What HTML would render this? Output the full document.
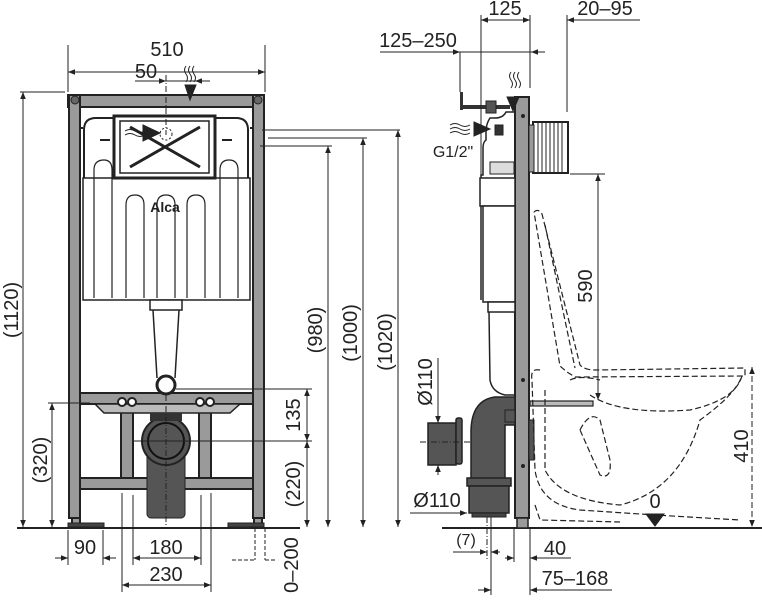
<!DOCTYPE html>
<html><head><meta charset="utf-8"><style>
html,body{margin:0;padding:0;background:#fff}
svg{display:block}
text{font-family:"Liberation Sans",sans-serif;fill:#222;font-size:20px}
</style></head><body>
<svg width="762" height="601" viewBox="0 0 762 601" xmlns="http://www.w3.org/2000/svg">
<defs>
<marker id="a" viewBox="0 0 10 10" refX="10" refY="5" markerWidth="9" markerHeight="7" orient="auto-start-reverse" markerUnits="userSpaceOnUse"><path d="M0,1L10,5L0,9z" fill="#222"/></marker>
</defs>
<g stroke="#222" fill="none">
<line x1="17" y1="528" x2="300" y2="528" stroke-width="2"/>
<line x1="442" y1="528" x2="762" y2="528" stroke-width="2"/>

<g fill="#9a9a9a" stroke-width="2">
<rect x="68" y="95" width="196" height="12"/>
<rect x="69" y="95" width="11" height="423"/>
<rect x="253" y="95" width="11" height="423"/>
<rect x="80" y="393" width="173" height="11"/>
<rect x="80" y="478" width="173" height="11"/>
<rect x="121" y="404" width="12" height="74"/>
<rect x="199" y="404" width="12" height="74"/>
<rect x="72" y="518" width="8" height="9"/>
<rect x="254" y="518" width="8" height="9"/>
</g>
<rect x="68" y="523" width="36" height="4" fill="#444"/>
<rect x="228" y="523" width="36" height="4" fill="#444"/>
<path d="M95 404 L240 404 L230 413 L104 413 Z" fill="#bbb" stroke-width="1.5"/>
<circle cx="75" cy="100" r="4" fill="#666"/><circle cx="258" cy="100" r="4" fill="#666"/>
<path d="M84 130 Q84 118 96 118 L236 118 Q248 118 248 130 L248 178" stroke-width="2"/>
<path d="M84 130 L84 178" stroke-width="2"/>
<rect x="83" y="178" width="167" height="122" fill="#fff" stroke-width="1.5"/>
<path d="M94 298 V170 Q94 160 104 160 Q112 160 112 170 V298 M126 298 V205 Q126 195 135 195 Q144 195 144 205 V298 M157 298 V205 Q157 195 166 195 Q175 195 175 205 V298 M187 298 V205 Q187 195 196 195 Q205 195 205 205 V298 M220 298 V170 Q220 160 229 160 Q238 160 238 170 V298" stroke-width="1.2"/>
<rect x="114" y="116" width="101" height="62" fill="#fff" stroke-width="3"/>
<rect x="120" y="121" width="89" height="52" stroke-width="1.5"/>
<path d="M130 167 L200 127 M130 127 L200 167" stroke-width="3"/>
<path d="M125 131 q5 -3 10 0 q5 3 10 0 M125 135 q5 -3 10 0 q5 3 10 0" stroke-width="1"/>
<path d="M143 125 L160 133 L143 141 Z" fill="#222"/>
<circle cx="166" cy="134" r="6" stroke-dasharray="2 2" stroke-width="1"/>
<path d="M80 128 h3 M250 128 h3 M100 140 l10 0 M222 140 l10 0" stroke-width="2"/>
<rect x="150" y="300" width="32" height="10" fill="#fff" stroke-width="1.5"/>
<path d="M153 310 L157 378 M179 310 L175 378" stroke-width="1.5"/>
<circle cx="166" cy="385" r="9" fill="#fff" stroke-width="3"/>
<g fill="#fff" stroke-width="2"><circle cx="122" cy="402" r="4"/><circle cx="132" cy="402" r="4"/><circle cx="200" cy="402" r="4"/><circle cx="210" cy="402" r="4"/></g>
<rect x="147" y="445" width="38" height="73" rx="4" fill="#555"/>
<circle cx="166" cy="441" r="24" fill="#555" stroke-width="2"/>
<circle cx="166" cy="441" r="18" fill="#555" stroke="#111" stroke-width="2"/>
<rect x="150" y="413" width="32" height="8" fill="#333" stroke="none"/>

<g stroke-width="1">
<line x1="68" y1="45" x2="68" y2="92"/><line x1="265" y1="45" x2="265" y2="92"/>
<line x1="68" y1="72" x2="265" y2="72" marker-start="url(#a)" marker-end="url(#a)"/>
<line x1="135" y1="81" x2="210" y2="81"/>
<line x1="166" y1="75" x2="166" y2="135" stroke-dasharray="6 2 1 2"/>
<path d="M158 81 h8" marker-end="url(#a)"/><path d="M205 81 h-10" marker-end="url(#a)"/>
<line x1="20" y1="92" x2="65" y2="92"/>
<line x1="23" y1="92" x2="23" y2="527" marker-start="url(#a)" marker-end="url(#a)"/>
<line x1="48" y1="403" x2="90" y2="403"/>
<line x1="52" y1="403" x2="52" y2="527" marker-start="url(#a)" marker-end="url(#a)"/>
<line x1="68" y1="530" x2="68" y2="565"/><line x1="103" y1="530" x2="103" y2="565"/>
<line x1="55" y1="558" x2="68" y2="558" marker-end="url(#a)"/><line x1="116" y1="558" x2="103" y2="558" marker-end="url(#a)"/>
<line x1="122" y1="493" x2="122" y2="592"/><line x1="211" y1="493" x2="211" y2="592"/>
<line x1="133" y1="495" x2="133" y2="565"/><line x1="201" y1="495" x2="201" y2="565"/>
<line x1="133" y1="558" x2="201" y2="558" marker-start="url(#a)" marker-end="url(#a)"/>
<line x1="122" y1="585" x2="211" y2="585" marker-start="url(#a)" marker-end="url(#a)"/>
<path d="M255 528 V560 M265 528 V560 M232 560 H255 M265 560 H275" stroke-dasharray="4 2"/>
<line x1="166" y1="395" x2="166" y2="525" stroke-dasharray="6 2 1 2"/>
<line x1="134" y1="441" x2="312" y2="441"/>
<line x1="176" y1="389" x2="312" y2="389"/>
<line x1="307" y1="389" x2="307" y2="441" marker-start="url(#a)" marker-end="url(#a)"/>
<line x1="307" y1="441" x2="307" y2="527" marker-start="url(#a)" marker-end="url(#a)"/>
<line x1="260" y1="146" x2="332" y2="146"/><line x1="268" y1="138" x2="367" y2="138"/><line x1="262" y1="130" x2="400" y2="130"/>
<line x1="328" y1="146" x2="328" y2="527" marker-start="url(#a)" marker-end="url(#a)"/>
<line x1="363" y1="138" x2="363" y2="527" marker-start="url(#a)" marker-end="url(#a)"/>
<line x1="398" y1="130" x2="398" y2="527" marker-start="url(#a)" marker-end="url(#a)"/>
</g>
<path d="M185 85 L196 85 L190 100 Z" fill="#222"/>
<path d="M186 66 q-3 4 0 8 q3 4 0 8 M190 66 q-3 4 0 8 q3 4 0 8 M194 66 q-3 4 0 8 q3 4 0 8" stroke-width="1"/>

<rect x="515" y="97" width="14" height="421" fill="#9a9a9a" stroke-width="2"/>
<rect x="517" y="518" width="11" height="10" fill="#9a9a9a" stroke-width="1.5"/>
<circle cx="523" cy="116" r="1.5" fill="#222"/><circle cx="523" cy="380" r="1.5" fill="#222"/><circle cx="523" cy="466" r="1.5" fill="#222"/>
<path d="M515 112 L506 112 Q503 118 495 118 L490 118 Q486 124 486 132 L486 140 Q483 142 483 148 L483 175 L481 175 L481 300" stroke-width="1.5"/>
<rect x="480" y="178" width="35" height="28" fill="#fff" stroke-width="1.5"/>
<rect x="483" y="206" width="32" height="96" fill="#fff" stroke-width="1.5"/>
<rect x="488" y="302" width="27" height="10" fill="#fff" stroke-width="1.5"/>
<path d="M489 312 L490 380 Q492 392 505 395 L515 395" stroke-width="1.5"/>
<rect x="490" y="162" width="24" height="12" fill="#ddd" stroke-width="1"/>
<rect x="495" y="125" width="8" height="10" fill="#333"/>
<rect x="533" y="122" width="35" height="51" fill="#fff" stroke-width="2"/>
<path d="M538 123v50M542 123v50M546 123v50M550 123v50M554 123v50M558 123v50M562 123v50" stroke-width="1"/>
<rect x="529" y="125" width="5" height="47" fill="#9a9a9a" stroke-width="1"/>
<rect x="460" y="105" width="50" height="4" fill="#333" stroke="none"/>
<rect x="460" y="92" width="3" height="18" fill="#333" stroke="none"/>
<rect x="486" y="101" width="10" height="12" fill="#555" stroke-width="1"/>
<path d="M507 97 L519 97 L513 111 Z" fill="#222"/>
<path d="M511 72 q-3 4 0 8 q3 4 0 8 M515 72 q-3 4 0 8 q3 4 0 8 M519 72 q-3 4 0 8 q3 4 0 8" stroke-width="1"/>
<path d="M450 125 q5 -3 10 0 q5 3 10 0 M450 129 q5 -3 10 0 q5 3 10 0 M450 133 q5 -3 10 0 q5 3 10 0" stroke-width="1"/>
<path d="M474 122 L490 129 L474 136 Z" fill="#222"/>
<path d="M515 397 L495 397 Q472 400 471 430 L471 480 L505 480 L505 425 L515 425 Z" fill="#555" stroke-width="1.5"/>
<rect x="467" y="478" width="44" height="8" fill="#555" stroke-width="1.5"/>
<rect x="469" y="486" width="40" height="27" fill="#555" stroke-width="1.5"/>
<rect x="472" y="513" width="34" height="4" fill="#444" stroke-width="1"/>
<rect x="505" y="410" width="10" height="12" fill="#555" stroke-width="1"/>
<rect x="529" y="420" width="5" height="40" fill="#555" stroke-width="1"/>
<rect x="428" y="423" width="28" height="42" fill="#555" stroke-width="1.5"/>
<rect x="456" y="418" width="6" height="46" rx="2" fill="#555" stroke-width="1.5"/>
<rect x="530" y="401" width="63" height="5" fill="#bbb" stroke-width="1.2"/>
<g stroke-dasharray="6 3" stroke-width="1.2">
<path d="M534 212 Q538 208 542 214 L580 365 Q585 370 595 370 L745 368 L745 376 L575 377 L567 372 L560 366 L534 212"/>
<path d="M545 225 L575 368"/>
<path d="M540 370 Q530 368 532 380 L535 470 Q540 505 580 510 L655 515 L740 520"/>
<path d="M545 390 L545 470 Q560 500 620 505 Q680 490 700 420 Q735 395 742 376"/>
<path d="M590 395 Q620 415 690 410 Q735 400 742 376"/>
<path d="M580 430 Q590 410 600 420 L610 460 Q612 480 600 475 Z"/>
<path d="M570 380 Q580 375 600 380"/>
<path d="M535 505 L540 520 L620 522"/>
</g>
<path d="M646 514 L664 514 L655 526 Z" fill="#222"/>

<g stroke-width="1">
<line x1="481" y1="15" x2="481" y2="175"/><line x1="530" y1="15" x2="530" y2="88"/><line x1="567" y1="15" x2="567" y2="112"/>
<line x1="481" y1="20" x2="530" y2="20" marker-start="url(#a)" marker-end="url(#a)"/>
<line x1="567" y1="20" x2="640" y2="20"/><line x1="580" y1="20" x2="567" y2="20" marker-end="url(#a)"/>
<line x1="380" y1="52" x2="460" y2="52"/><line x1="450" y1="52" x2="460" y2="52" marker-end="url(#a)"/>
<line x1="460" y1="52" x2="542" y2="52"/><line x1="545" y1="52" x2="531" y2="52" marker-end="url(#a)"/>
<line x1="460" y1="52" x2="460" y2="92"/>
<line x1="570" y1="174" x2="605" y2="174"/>
<line x1="598" y1="174" x2="598" y2="400" marker-start="url(#a)" marker-end="url(#a)"/>
<line x1="438" y1="358" x2="438" y2="423" marker-end="url(#a)"/>
<line x1="438" y1="475" x2="438" y2="465" marker-end="url(#a)"/>
<line x1="420" y1="442" x2="470" y2="442" stroke-dasharray="6 2 1 2"/>
<line x1="410" y1="513" x2="467" y2="513" marker-end="url(#a)"/>
<line x1="752" y1="367" x2="752" y2="527" stroke-dasharray="6 3" marker-start="url(#a)" marker-end="url(#a)"/>
<line x1="487" y1="517" x2="487" y2="560" stroke-dasharray="6 2 1 2"/>
<line x1="491" y1="517" x2="491" y2="595"/>
<line x1="514" y1="528" x2="514" y2="562"/><line x1="530" y1="528" x2="530" y2="595"/>
<line x1="453" y1="552" x2="487" y2="552" marker-end="url(#a)"/><line x1="500" y1="552" x2="491" y2="552" marker-end="url(#a)"/>
<line x1="505" y1="558" x2="514" y2="558" marker-end="url(#a)"/><line x1="571" y1="558" x2="530" y2="558" marker-end="url(#a)"/>
<line x1="478" y1="590" x2="491" y2="590" marker-end="url(#a)"/><line x1="612" y1="590" x2="530" y2="590" marker-end="url(#a)"/>
</g>
</g>

<text x="167" y="56" text-anchor="middle">510</text>
<text x="146" y="78" text-anchor="middle">50</text>
<text x="165" y="212" text-anchor="middle" style="font-size:14px;font-weight:bold">Alca</text>
<text transform="translate(18,310) rotate(-90)" text-anchor="middle">(1120)</text>
<text transform="translate(47,460) rotate(-90)" text-anchor="middle">(320)</text>
<text x="85" y="554" text-anchor="middle">90</text>
<text x="166" y="554" text-anchor="middle">180</text>
<text x="166" y="581" text-anchor="middle">230</text>
<text transform="translate(298,565) rotate(-90)" text-anchor="middle">0–200</text>
<text transform="translate(300,415) rotate(-90)" text-anchor="middle">135</text>
<text transform="translate(300,484) rotate(-90)" text-anchor="middle">(220)</text>
<text transform="translate(322,330) rotate(-90)" text-anchor="middle">(980)</text>
<text transform="translate(357,333) rotate(-90)" text-anchor="middle">(1000)</text>
<text transform="translate(392,342) rotate(-90)" text-anchor="middle">(1020)</text>
<text x="505" y="15" text-anchor="middle">125</text>
<text x="605" y="15" text-anchor="middle">20–95</text>
<text x="418" y="47" text-anchor="middle">125–250</text>
<text x="453" y="157" text-anchor="middle" style="font-size:16px">G1/2"</text>
<text transform="translate(592,286) rotate(-90)" text-anchor="middle">590</text>
<text transform="translate(432,382) rotate(-90)" text-anchor="middle">Ø110</text>
<text x="437" y="507" text-anchor="middle">Ø110</text>
<text transform="translate(748,446) rotate(-90)" text-anchor="middle">410</text>
<text x="655" y="508" text-anchor="middle">0</text>
<text x="466" y="545" text-anchor="middle" style="font-size:16px">(7)</text>
<text x="555" y="555" text-anchor="middle">40</text>
<text x="575" y="585" text-anchor="middle">75–168</text>
</svg>
</body></html>
